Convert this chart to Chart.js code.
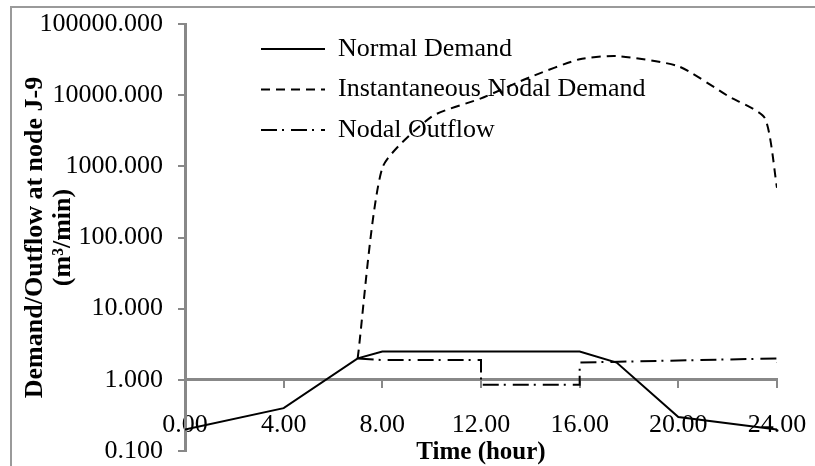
<!DOCTYPE html>
<html>
<head>
<meta charset="utf-8">
<script src="https://cdn.jsdelivr.net/npm/chart.js@4"></script>
<style>
  html, body { margin: 0; padding: 0; background: #fff; }
  #wrap { position: relative; width: 815px; height: 466px; overflow: hidden; }
  #frame { position: absolute; left: 10px; top: 6px; width: 900px; height: 600px; border: 2px solid #9a9a9a; box-sizing: border-box; }
  #myChart { position: absolute; left: 0; top: 0; }
</style>
</head>
<body>
<div id="wrap">
  <div id="frame"></div>
  <canvas id="myChart" width="815" height="466"></canvas>
</div>
<script>
const timeTicks = [0, 4, 8, 12, 16, 20, 24];
const demandTicks = [0.1, 1, 10, 100, 1000, 10000, 100000];

const normalHours = [0, 4, 7, 8, 16, 17.5, 20, 24];
const normalDemand = [0.2, 0.4, 2.0, 2.5, 2.5, 1.75, 0.3, 0.2];

const instHours = [7, 8, 10, 12, 14, 16, 17.5, 20, 22, 23.5, 24];
const instDemand = [2.0, 950, 5000, 9000, 18000, 32000, 35500, 25500, 9800, 4800, 500];

const outflowHours = [7, 8, 12, 12, 16, 16, 24, 24];
const nodalOutflow = [2.0, 1.9, 1.9, 0.85, 0.85, 1.75, 2.0, 1.72];

const axisGray = '#888888';
const serif = "'Liberation Serif', 'Times New Roman', serif";

function toPoints(xs, ys) {
    return xs.map((x, i) => ({ x: x, y: ys[i] }));
}

// put the legend at a fixed spot inside the plot, like the original
const legendSpot = {
    id: 'legendSpot',
    afterLayout(chart) {
        const lg = chart.legend;
        lg.left = 246.5;
        lg.top = 21.5;
        lg.right = lg.left + lg.width;
        lg.bottom = lg.top + lg.height;
    }
};

const ctx = document.getElementById('myChart');

new Chart(ctx, {
    type: 'line',
    data: {
        datasets: [
            {
                label: 'Normal Demand',
                data: toPoints(normalHours, normalDemand),
                borderColor: '#000',
                borderWidth: 2,
                pointRadius: 0,
                tension: 0
            },
            {
                label: 'Instantaneous Nodal Demand',
                data: toPoints(instHours, instDemand),
                borderColor: '#000',
                borderWidth: 2,
                borderDash: [9, 6],
                pointRadius: 0,
                tension: 0.2
            },
            {
                label: 'Nodal Outflow',
                data: toPoints(outflowHours, nodalOutflow),
                borderColor: '#000',
                borderWidth: 2,
                borderDash: [16, 5, 2, 7],
                pointRadius: 0,
                tension: 0
            }
        ]
    },
    options: {
        responsive: false,
        animation: false,
        devicePixelRatio: 1,
        layout: { padding: { left: 0, top: 24, right: 38, bottom: 0 } },
        plugins: {
            tooltip: { enabled: false },
            legend: {
                position: 'chartArea',
                align: 'start',
                labels: {
                    color: '#000',
                    font: { family: serif, size: 26 },
                    usePointStyle: true,
                    pointStyle: 'line',
                    pointStyleWidth: 64,
                    padding: 14.5,
                    generateLabels: chart => {
                        const items = Chart.defaults.plugins.legend.labels.generateLabels(chart);
                        items.forEach(item => {
                            const ds = chart.data.datasets[item.datasetIndex];
                            item.lineDash = ds.borderDash || [];
                            item.lineWidth = ds.borderWidth;
                            item.strokeStyle = ds.borderColor;
                        });
                        return items;
                    }
                }
            }
        },
        scales: {
            x: {
                type: 'linear',
                position: 'bottom',
                min: 0,
                max: 24,
                afterBuildTicks: s => { s.ticks = timeTicks.map(v => ({ value: v })); },
                afterFit: s => { s.height = 15; s.paddingLeft = 0; s.paddingRight = 0; },
                grid: { display: false, drawTicks: false },
                border: { display: false },
                ticks: {
                    color: '#000',
                    font: { family: serif, size: 26 },
                    mirror: true,
                    padding: 10,
                    maxRotation: 0,
                    autoSkip: false,
                    callback: v => Number(v).toFixed(2)
                },
                title: {
                    display: true,
                    text: 'Time (hour)',
                    color: '#000',
                    font: { family: serif, size: 25, weight: 'bold' },
                    padding: { top: 0, bottom: -2 }
                }
            },
            x2: {
                type: 'linear',
                position: { y: 1 },
                min: 0,
                max: 24,
                afterBuildTicks: s => { s.ticks = timeTicks.map(v => ({ value: v })); },
                afterFit: s => { s.height = 0; s.paddingLeft = 0; s.paddingRight = 0; },
                grid: {
                    display: true,
                    drawOnChartArea: false,
                    drawTicks: true,
                    tickLength: 7,
                    color: axisGray,
                    lineWidth: 2
                },
                border: { display: true, color: axisGray, width: 3 },
                ticks: { display: false }
            },
            y: {
                type: 'logarithmic',
                position: 'left',
                min: 0.1,
                max: 100000,
                afterBuildTicks: s => { s.ticks = demandTicks.map(v => ({ value: v })); },
                afterFit: s => { s.width = 185; s.paddingTop = 0; s.paddingBottom = 0; },
                grid: {
                    display: true,
                    drawOnChartArea: false,
                    drawTicks: true,
                    tickLength: 7,
                    color: axisGray,
                    lineWidth: 2
                },
                border: { display: true, color: axisGray, width: 3 },
                ticks: {
                    color: '#000',
                    font: { family: serif, size: 26 },
                    padding: 15,
                    autoSkip: false,
                    callback: v => Number(v).toFixed(3)
                },
                title: {
                    display: true,
                    text: ['Demand/Outflow at node J-9', '(m³/min)'],
                    color: '#000',
                    font: { family: serif, size: 26, weight: 'bold', lineHeight: 1.08 },
                    padding: { top: 21, bottom: 0 }
                }
            }
        }
    },
    plugins: [legendSpot]
});
</script>
</body>
</html>
